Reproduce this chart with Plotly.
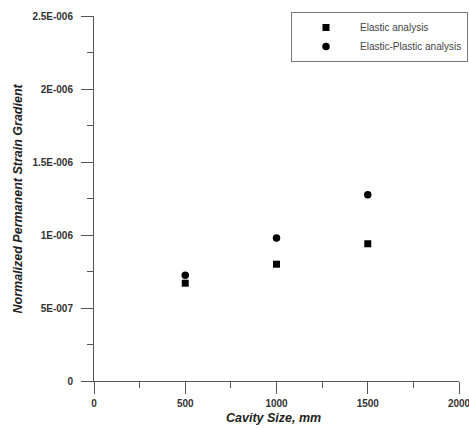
import plotly.graph_objects as go

cavity_size = [500, 1000, 1500]
elastic = [6.7e-7, 8.0e-7, 9.4e-7]
elastic_plastic = [7.25e-7, 9.8e-7, 1.275e-6]

x_ticks = [0, 500, 1000, 1500, 2000]
x_labels = ["0", "500", "1000", "1500", "2000"]
y_ticks = [0, 5e-7, 1e-6, 1.5e-6, 2e-6, 2.5e-6]
y_labels = ["0", "5E-007", "1E-006", "1.5E-006", "2E-006", "2.5E-006"]

x_title = "Cavity Size, mm"
y_title = "Normalized Permanent Strain Gradient"

FONT = "Liberation Sans, Arial, sans-serif"

fig = go.Figure()
fig.add_trace(go.Scatter(x=cavity_size, y=elastic, mode="markers", name="Elastic analysis",
                         marker=dict(symbol="square", size=7, color="black")))
fig.add_trace(go.Scatter(x=cavity_size, y=elastic_plastic, mode="markers", name="Elastic-Plastic analysis",
                         marker=dict(symbol="circle", size=7.5, color="black")))

axis_common = dict(showline=True, linecolor="#555", linewidth=1, showgrid=False, zeroline=False,
                   ticks="outside", ticklen=12, tickcolor="#555", tickwidth=1, automargin=False,
                   ticklabeloverflow="allow",
                   tickfont=dict(family=FONT, size=10, color="#333", weight="bold"))

fig.update_xaxes(range=[0, 2000], tickvals=x_ticks, ticktext=x_labels,
                 minor=dict(ticks="outside", ticklen=6, dtick=250, tickcolor="#555", showgrid=False),
                 ticklabelstandoff=1,
                 **axis_common)
fig.update_yaxes(range=[0, 2.5e-6], tickvals=y_ticks, ticktext=y_labels,
                 minor=dict(ticks="outside", ticklen=6, dtick=2.5e-7, tickcolor="#555", showgrid=False),
                 ticklabelstandoff=6,
                 **axis_common)

title_font = dict(family=FONT, size=12.5, color="#222", weight="bold", style="italic")
plot_h = 428 - 16 - 47
plot_w = 469 - 94 - 10
fig.add_annotation(text=x_title, xref="paper", yref="paper", x=(273 - 94) / plot_w,
                   y=-(418 - 381) / plot_h, xanchor="center", yanchor="middle",
                   showarrow=False, font=title_font)
fig.add_annotation(text=y_title, xref="paper", yref="paper", x=(17 - 94) / plot_w,
                   y=0.5, xanchor="center", yanchor="middle", textangle=-90,
                   showarrow=False, font=title_font)

fig.update_layout(
    width=469, height=428,
    margin=dict(l=94, r=10, t=16, b=47, autoexpand=False),
    paper_bgcolor="white", plot_bgcolor="white",
    showlegend=True,
    legend=dict(x=(291 - 94) / plot_w, y=(381 - 12) / plot_h, xanchor="left", yanchor="top",
                bordercolor="#777", borderwidth=1, bgcolor="white",
                font=dict(family=FONT, size=10, color="#444"),
                itemwidth=58, tracegroupgap=0, itemclick=False),
)

fig.write_html("out.html", config={"displayModeBar": False},
               post_script="document.body.style.margin='0';document.body.style.overflow='hidden';")
